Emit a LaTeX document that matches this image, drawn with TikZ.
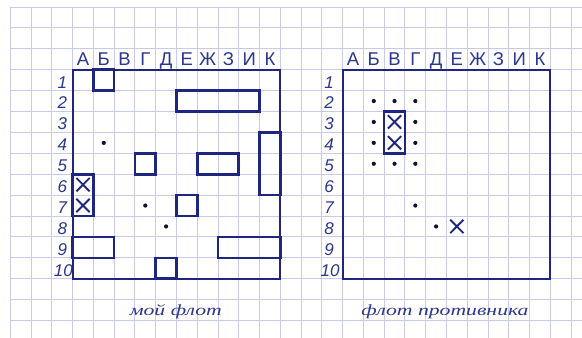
\documentclass[tikz,border=0pt]{standalone}
\usepackage{fontspec}
\setmainfont{Liberation Sans}
\newfontfamily\capfont{Liberation Serif}[FakeStretch=1.4]
\definecolor{navy}{HTML}{1E2680}
\definecolor{inkblue}{HTML}{2B3790}
\definecolor{gridc}{HTML}{C9C9EA}
\definecolor{dotc}{HTML}{10122E}
\tikzset{
  gridline/.style={draw=gridc, line width=0.9pt},
  boardframe/.style={draw=navy, line width=2pt},
  ship/.style={draw=navy, line width=2.6pt},
  hitx/.style={draw=navy, line width=1.9pt},
  lbl/.style={text=inkblue, font=\fontsize{18.5}{18.5}\selectfont, anchor=base, inner sep=0pt},
  num/.style={text=inkblue, font=\fontsize{17}{17}\selectfont\itshape, anchor=base, inner sep=0pt},
  caption/.style={text=inkblue, font=\capfont\itshape\fontsize{15.5}{15.5}\selectfont, anchor=base, inner sep=0pt},
  miss/.style={fill=dotc}
}
\newcommand{\xmark}[2]{\draw[hitx] (#1+0.18,#2+0.18) -- (#1+0.82,#2+0.82) (#1+0.82,#2+0.18) -- (#1+0.18,#2+0.82);}
\newcommand{\missdot}[2]{\fill[miss] (#1,#2) circle (2.1pt);}
\begin{document}
\begin{tikzpicture}[x=20.77pt,y=-20.9pt]
\useasboundingbox (-0.496,-0.335) rectangle (27.525,15.837);
\fill[white] (-0.496,-0.335) rectangle (27.525,15.837);
% grid
\foreach \c in {0,...,27} \draw[gridline] (\c,0) -- (\c,15.837);
\foreach \r in {0,...,15} \draw[gridline] (0,\r) -- (27.525,\r);
% frames
\draw[boardframe] (3,3) rectangle (13,13);
\draw[boardframe] (16,3) rectangle (26,13);
% column letters
\foreach \L [count=\i from 0] in {А,Б,В,Г,Д,Е,Ж,З,И,К} {
  \node[lbl] (la\i) at (3.5+\i,2.82) {\L};
  \node[lbl] (ra\i) at (16.5+\i,2.82) {\L};
}
% row numbers
\foreach \k in {1,...,9} {
  \node[num] (ln\k) at (2.5,2.88+\k) {\k};
  \node[num] (rn\k) at (15.35,2.88+\k) {\k};
}
\node[num] (ln10) at (2.55,12.88) {10};
\node[num] (rn10) at (15.4,12.88) {10};
% my fleet
\draw[ship] (4,3) rectangle (5,4);
\draw[ship] (8,4) rectangle (12,5);
\draw[ship] (12,6) rectangle (13,9);
\draw[ship] (6,7) rectangle (7,8);
\draw[ship] (9,7) rectangle (11,8);
\draw[ship] (3,8) rectangle (4,10);
\xmark{3}{8}
\xmark{3}{9}
\draw[ship] (8,9) rectangle (9,10);
\draw[ship] (3,11) rectangle (5,12);
\draw[ship] (10,11) rectangle (13,12);
\draw[ship] (7,12) rectangle (8,13);
\missdot{4.5}{6.5}
\missdot{6.5}{9.5}
\missdot{7.5}{10.5}
% enemy fleet
\foreach \x in {17.5,18.5,19.5} {\missdot{\x}{4.5} \missdot{\x}{7.5}}
\missdot{17.5}{5.5} \missdot{19.5}{5.5}
\missdot{17.5}{6.5} \missdot{19.5}{6.5}
\missdot{19.5}{9.5}
\missdot{20.5}{10.5}
\draw[ship] (18,5) rectangle (19,7);
\xmark{18}{5}
\xmark{18}{6}
\xmark{21}{10}
% captions
\node[caption] (cap1) at (7.97,14.74) {мой флот};
\node[caption] (cap2) at (20.93,14.74) {флот противника};
\end{tikzpicture}
\end{document}
